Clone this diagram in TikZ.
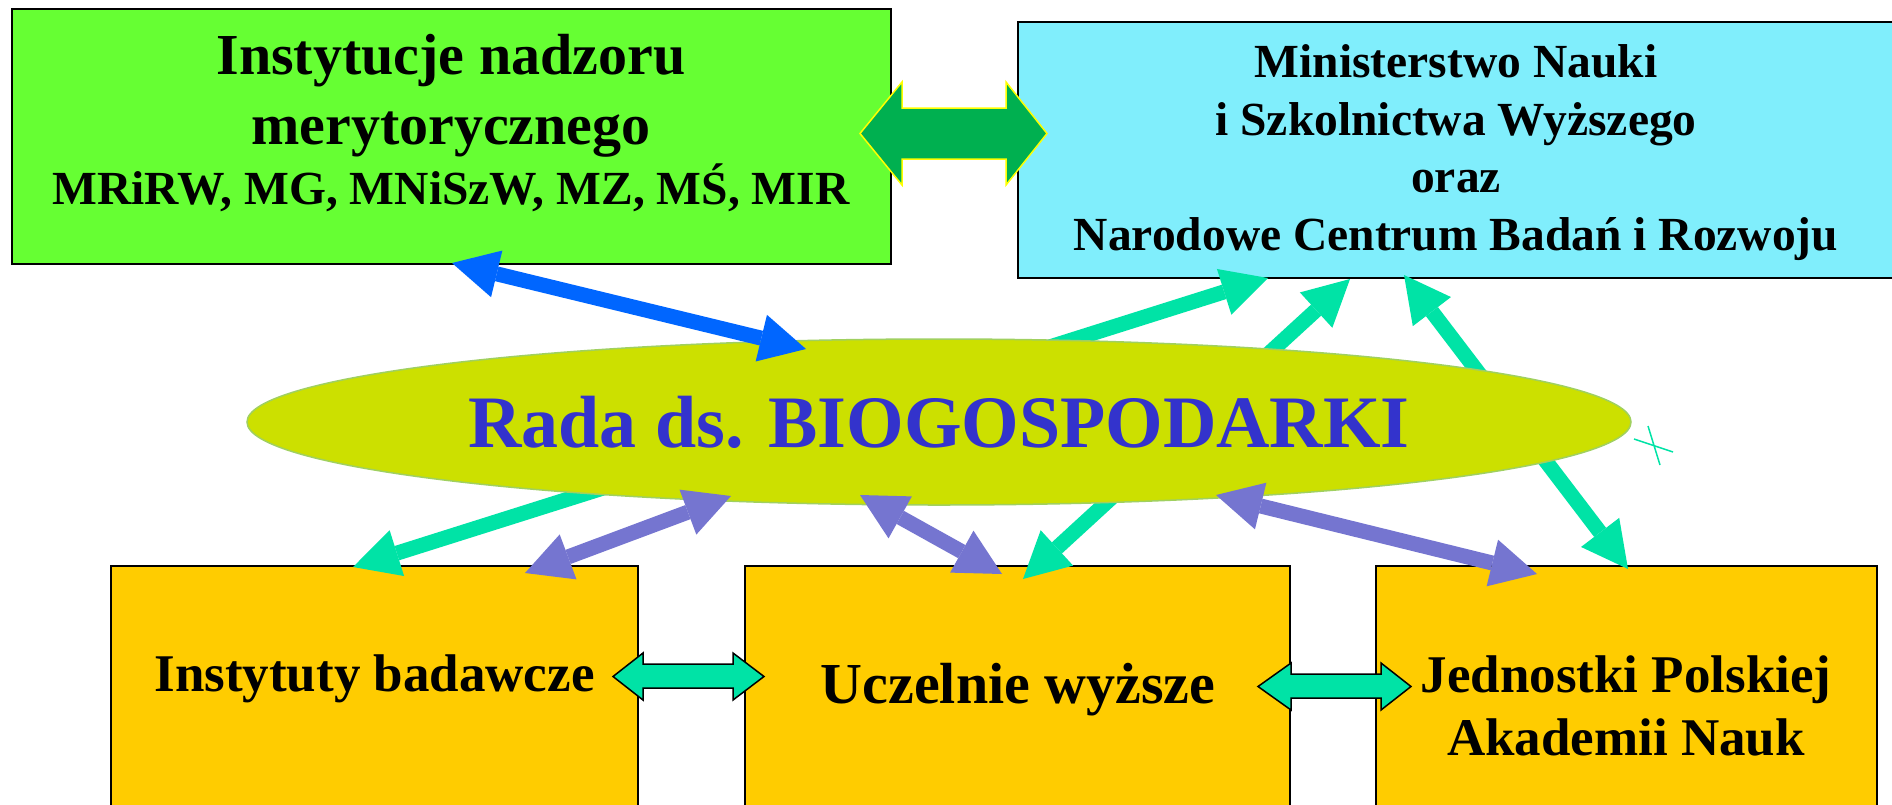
\documentclass[tikz,border=0pt]{standalone}
\usepackage{fontspec}
\setmainfont{Liberation Serif}
\usetikzlibrary{arrows.meta,shapes.geometric}
\definecolor{gboxc}{HTML}{66FF33}
\definecolor{cboxc}{HTML}{80EEFC}
\definecolor{ellc}{HTML}{CCE000}
\definecolor{elledge}{HTML}{A0D060}
\definecolor{radac}{HTML}{3333CC}
\definecolor{yboxc}{HTML}{FFCC00}
\definecolor{tealc}{HTML}{00E3A6}
\definecolor{purpc}{HTML}{7575D0}
\definecolor{bluec}{HTML}{0066FF}
\definecolor{dgreenc}{HTML}{00B050}
\definecolor{yelc}{HTML}{FFFF00}
\tikzset{
  box/.style={draw=black, line width=2pt, inner sep=0pt},
  lowbox/.style={draw=black, line width=1.5pt, fill=yboxc, inner sep=0pt, minimum height=274pt},
  txt/.style={anchor=base, inner sep=0pt},
  conn/.style={line width=15pt, {Triangle[length=46pt,width=48pt,line width=0pt]}-{Triangle[length=46pt,width=48pt,line width=0pt]}},
  fatarrow/.style={fill=tealc, draw=black, line width=1.5pt, line join=miter},
}
\begin{document}
\begin{tikzpicture}[x=1pt,y=-1pt]
\clip (0,0) rectangle (1892,804);
\fill[white] (0,0) rectangle (1892,804);

% boxes
\node[box, fill=gboxc, minimum width=879pt, minimum height=255pt] (gb) at (451.5,136.5) {};
\node[box, fill=cboxc, minimum width=876pt, minimum height=256pt] (cb) at (1456,150) {};
\node[lowbox, minimum width=527pt] (b1) at (374.5,703) {};
\node[lowbox, minimum width=545pt] (b2) at (1017.5,703) {};
\node[lowbox, minimum width=501pt] (b3) at (1626.5,703) {};

% texts
\node[txt, font=\bfseries\fontsize{58}{60}\selectfont] (g1) at (451,74) {Instytucje nadzoru};
\node[txt, font=\bfseries\fontsize{58}{60}\selectfont] (g2) at (451,144) {merytorycznego};
\node[txt, font=\bfseries\fontsize{47.5}{50}\selectfont] (g3) at (451,204) {MRiRW, MG, MNiSzW, MZ, MŚ, MIR};
\node[txt, font=\bfseries\fontsize{47.5}{50}\selectfont] (c1) at (1456,77) {Ministerstwo Nauki};
\node[txt, font=\bfseries\fontsize{47.5}{50}\selectfont] (c2) at (1456,135) {i Szkolnictwa Wyższego};
\node[txt, font=\bfseries\fontsize{47.5}{50}\selectfont] (c3) at (1456,192) {oraz};
\node[txt, font=\bfseries\fontsize{47.5}{50}\selectfont] (c4) at (1456,250) {Narodowe Centrum Badań i Rozwoju};
\node[txt, font=\bfseries\fontsize{53}{55}\selectfont] (l1) at (374.5,691) {Instytuty badawcze};
\node[txt, font=\bfseries\fontsize{58}{60}\selectfont] (l2) at (1018,703) {Uczelnie wyższe};
\node[txt, font=\bfseries\fontsize{53}{55}\selectfont] (l3a) at (1626,692) {Jednostki Polskiej};
\node[txt, font=\bfseries\fontsize{53}{55}\selectfont] (l3b) at (1626,755) {Akademii Nauk};

% endpoints
\coordinate (t1a) at (353,567);  \coordinate (t1b) at (1268,278);
\coordinate (t2a) at (1023,579); \coordinate (t2b) at (1350,279);
\coordinate (t3a) at (1628,569); \coordinate (t3b) at (1404,275);
\coordinate (p1a) at (525,573);  \coordinate (p1b) at (731,496);
\coordinate (p2a) at (860,495);  \coordinate (p2b) at (1002,574);
\coordinate (p3a) at (1216,495); \coordinate (p3b) at (1537,574);
\coordinate (bla) at (452,263);  \coordinate (blb) at (806,349);

% teal arrows behind the ellipse
\draw[conn, tealc] (t1a) -- (t1b);
\draw[conn, tealc] (t2a) -- (t2b);
\draw[conn, tealc] (t3a) -- (t3b);

% ellipse
\node[ellipse, draw=elledge, line width=1.5pt, fill=ellc, minimum width=1384pt,
      minimum height=166pt, inner sep=0pt, text=radac,
      font=\bfseries\fontsize{74}{80}\selectfont] (ell) at (939,422) {Rada ds. BIOGOSPODARKI};

% purple and blue arrows
\draw[conn, purpc] (p1a) -- (p1b);
\draw[conn, purpc] (p2a) -- (p2b);
\draw[conn, purpc] (p3a) -- (p3b);
\draw[conn, bluec] (bla) -- (blb);

% small cross
\draw[tealc, line width=1.5pt] (1648,426) -- (1660,465) (1634,439) -- (1673,452);

% fat double arrows
\filldraw[fill=dgreenc, draw=yelc, line width=1.5pt, line join=miter]
  (860,133.5) -- (902,82) -- (902,108) -- (1006,108) -- (1006,82) -- (1047,133.5)
  -- (1006,185) -- (1006,159) -- (902,159) -- (902,185) -- cycle;
\filldraw[fatarrow]
  (613,676.5) -- (643,653) -- (643,664) -- (733,664) -- (733,653) -- (764,676.5)
  -- (733,700) -- (733,688) -- (643,688) -- (643,700) -- cycle;
\filldraw[fatarrow]
  (1258,686.5) -- (1291,663) -- (1291,674) -- (1381,674) -- (1381,663) -- (1411,686.5)
  -- (1381,710) -- (1381,698) -- (1291,698) -- (1291,710) -- cycle;
\end{tikzpicture}
\end{document}
